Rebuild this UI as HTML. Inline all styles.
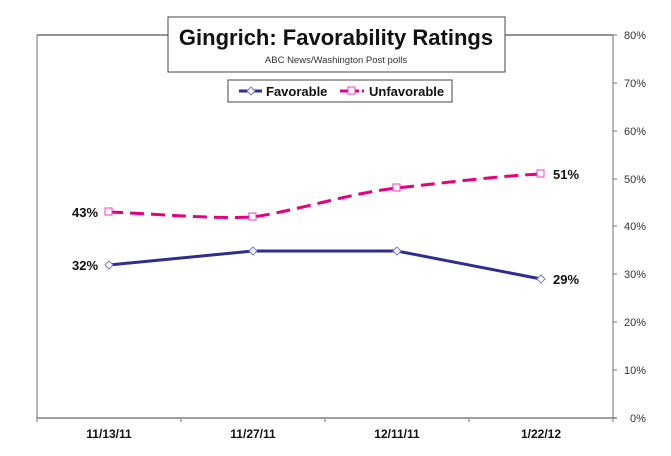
<!DOCTYPE html>
<html><head><style>body{margin:0;background:#fff}svg{display:block}</style></head><body>
<svg width="671" height="456" xmlns="http://www.w3.org/2000/svg" font-family="Liberation Sans, Arial, sans-serif">
<rect x="0" y="0" width="671" height="456" fill="#fff"/>
<g stroke="#888" stroke-width="1.2" fill="none">
<line x1="37" y1="35" x2="37" y2="418"/>
<line x1="37" y1="35" x2="613" y2="35" stroke="#555"/>
<line x1="613" y1="35" x2="613" y2="418"/>
<line x1="37" y1="418" x2="617" y2="418" stroke="#666"/>
<line x1="37" y1="418" x2="37" y2="422"/><line x1="181" y1="418" x2="181" y2="422"/><line x1="325" y1="418" x2="325" y2="422"/><line x1="469" y1="418" x2="469" y2="422"/><line x1="613" y1="418" x2="613" y2="422"/>
<line x1="613" y1="35" x2="617" y2="35"/><line x1="613" y1="83" x2="617" y2="83"/><line x1="613" y1="131" x2="617" y2="131"/><line x1="613" y1="179" x2="617" y2="179"/><line x1="613" y1="226" x2="617" y2="226"/><line x1="613" y1="274" x2="617" y2="274"/><line x1="613" y1="322" x2="617" y2="322"/><line x1="613" y1="370" x2="617" y2="370"/>
</g>
<g font-size="11" fill="#333">
<text x="624" y="39">80%</text><text x="624" y="87">70%</text><text x="624" y="135">60%</text><text x="624" y="183">50%</text><text x="624" y="230">40%</text><text x="624" y="278">30%</text><text x="624" y="326">20%</text><text x="624" y="374">10%</text><text x="630" y="422">0%</text>
</g>
<g font-size="12" font-weight="bold" fill="#111" text-anchor="middle">
<text x="109" y="438">11/13/11</text><text x="253" y="438">11/27/11</text><text x="397" y="438">12/11/11</text><text x="541" y="438">1/22/12</text>
</g>
<path d="M109,212 C160,214 210,219 253,217 C300,210 350,193 397,188 C450,182 500,176 541,174" fill="none" stroke="#e6007e" stroke-width="3" stroke-dasharray="14,7"/>
<polyline points="109,265 253,251 397,251 541,279" fill="none" stroke="#2e2e8f" stroke-width="3"/>
<g fill="#fff" stroke="#ff33cc" stroke-width="1"><rect x="105" y="208" width="7" height="7"/><rect x="249" y="213" width="7" height="7"/><rect x="393" y="184" width="7" height="7"/><rect x="537" y="170" width="7" height="7"/></g>
<g fill="#fff" stroke="#7b7bc0" stroke-width="1"><path d="M109,261 l4,4 l-4,4 l-4,-4z"/><path d="M253,247 l4,4 l-4,4 l-4,-4z"/><path d="M397,247 l4,4 l-4,4 l-4,-4z"/><path d="M541,275 l4,4 l-4,4 l-4,-4z"/></g>
<g font-size="13" font-weight="bold" fill="#111">
<text x="72" y="217">43%</text><text x="72" y="270">32%</text><text x="553" y="179">51%</text><text x="553" y="284">29%</text>
</g>
<rect x="168" y="17" width="337" height="55" fill="#fff" stroke="#444" stroke-width="1"/>
<text x="336" y="45" font-size="22" font-weight="bold" text-anchor="middle" fill="#111">Gingrich: Favorability Ratings</text>
<text x="336" y="63" font-size="9.5" text-anchor="middle" fill="#333">ABC News/Washington  Post polls</text>
<rect x="228" y="80" width="224" height="22" fill="#fff" stroke="#444" stroke-width="1"/>
<line x1="239" y1="91" x2="262" y2="91" stroke="#2e2e8f" stroke-width="3"/>
<path d="M251,87 l4,4 l-4,4 l-4,-4z" fill="#fff" stroke="#7b7bc0"/>
<text x="266" y="96" font-size="13" font-weight="bold" fill="#111">Favorable</text>
<line x1="340" y1="91" x2="364" y2="91" stroke="#e6007e" stroke-width="3" stroke-dasharray="8,3"/>
<rect x="348" y="87" width="7" height="7" fill="#fff" stroke="#ff33cc"/>
<text x="369" y="96" font-size="13" font-weight="bold" fill="#111">Unfavorable</text>
</svg>
</body></html>
